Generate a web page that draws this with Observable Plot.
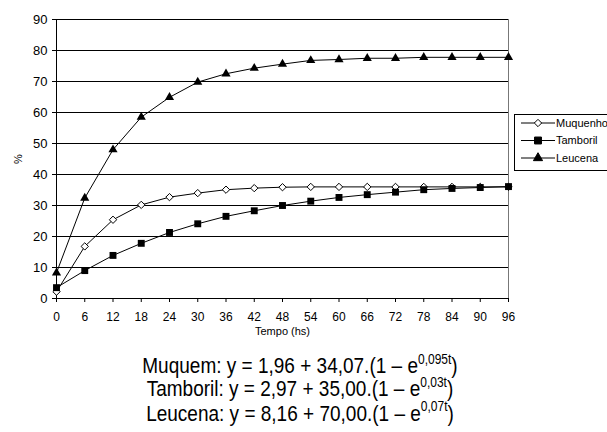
<!DOCTYPE html>
<html>
<head>
<meta charset="utf-8">
<script src="https://cdn.jsdelivr.net/npm/d3@7"></script>
<script src="https://cdn.jsdelivr.net/npm/@observablehq/plot@0.6"></script>
<style>
  html, body { margin: 0; padding: 0; background: #fff; }
  body { width: 607px; height: 432px; overflow: hidden; position: relative; font-family: "Liberation Sans", Arial, sans-serif; }
  #chart { position: absolute; left: 0; top: 0; }
  #legend { position: absolute; left: 514px; top: 114px; }
  #eq { position: absolute; left: 0; top: 355px; width: 600px; text-align: center; font-size: 19px; line-height: 20.4px; color: #000; transform: scaleY(1.15); transform-origin: top left; }
  #eq sup { font-size: 12px; vertical-align: 8px; line-height: 0; }
</style>
</head>
<body>
<div id="chart"></div>
<div id="legend"></div>
<div id="eq"></div>
<script>
const times = [0, 6, 12, 18, 24, 30, 36, 42, 48, 54, 60, 66, 72, 78, 84, 90, 96];
const muquem   = [2.2, 16.8, 25.4, 30.2, 32.7, 34.0, 35.1, 35.6, 35.9, 36.0, 36.0, 36.0, 36.0, 36.0, 36.0, 36.0, 36.0];
const tamboril = [3.5, 9.0, 13.9, 17.8, 21.3, 24.1, 26.5, 28.3, 30.0, 31.4, 32.6, 33.5, 34.3, 35.1, 35.5, 35.8, 36.1];
const leucena  = [8.3, 32.4, 48.0, 58.5, 64.9, 69.8, 72.5, 74.3, 75.6, 76.8, 77.1, 77.5, 77.5, 77.8, 77.8, 77.8, 77.8];
const yTicks = [0, 10, 20, 30, 40, 50, 60, 70, 80, 90];
const seriesNames = ["Muquenho", "Tamboril", "Leucena"];
const equations = [
  ["Muquem: y = 1,96 + 34,07.(1 \u2013 e", "0,095t", ")"],
  ["Tamboril: y = 2,97 + 35,00.(1 \u2013 e", "0,03t", ")"],
  ["Leucena: y = 8,16 + 70,00.(1 \u2013 e", "0,07t", ")"]
];

const toRows = (vals, s) => vals.map((v, i) => ({ t: times[i], v, s }));
const rowsM = toRows(muquem, seriesNames[0]);
const rowsT = toRows(tamboril, seriesNames[1]);
const rowsL = toRows(leucena, seriesNames[2]);

const chart = Plot.plot({
  width: 607,
  height: 340,
  marginLeft: 56,
  marginRight: 99,
  marginTop: 19,
  marginBottom: 42,
  style: { fontFamily: "Liberation Sans, Arial, sans-serif", fontSize: "12px", background: "white", color: "black", overflow: "visible" },
  x: { domain: [0, 96], label: null },
  y: { domain: [0, 90], label: null },
  marks: [
    Plot.ruleY(yTicks, { stroke: "black", strokeWidth: 1 }),
    Plot.ruleX([96], { stroke: "#777", strokeWidth: 1 }),
    Plot.ruleX([0], { stroke: "black", strokeWidth: 1 }),
    Plot.axisX({ ticks: times, tickSize: 4, tickPadding: 10, label: null, fontSize: 12 }),
    Plot.axisY({ ticks: yTicks, tickSize: 4, tickPadding: 5, label: null, fontSize: 13 }),
    Plot.text(["%"], { frameAnchor: "left", dx: -38, rotate: -90, textAnchor: "middle", lineAnchor: "middle", fontSize: 11 }),
    Plot.text(["Tempo (hs)"], { frameAnchor: "bottom", dy: 33, textAnchor: "middle", lineAnchor: "middle", fontSize: 11 }),
    Plot.line(rowsL, { x: "t", y: "v", stroke: "black", strokeWidth: 1 }),
    Plot.line(rowsM, { x: "t", y: "v", stroke: "black", strokeWidth: 1 }),
    Plot.line(rowsT, { x: "t", y: "v", stroke: "black", strokeWidth: 1 }),
    Plot.dot(rowsL, { x: "t", y: "v", symbol: "triangle", r: 3.4, fill: "black" }),
    Plot.dot(rowsM, { x: "t", y: "v", symbol: "diamond2", r: 3.3, fill: "white", stroke: "black", strokeWidth: 1 }),
    Plot.dot(rowsT, { x: "t", y: "v", symbol: "square", r: 3.9, fill: "black" })
  ]
});
document.getElementById("chart").appendChild(chart);

// legend
const symbols = [
  { sym: d3.symbolDiamond2, size: Math.PI * 3.3 * 3.3, fill: "white" },
  { sym: d3.symbolSquare, size: Math.PI * 3.9 * 3.9, fill: "black" },
  { sym: d3.symbolTriangle, size: Math.PI * 3.4 * 3.4, fill: "black" }
];
const lg = d3.create("svg").attr("width", 100).attr("height", 60)
  .style("font-family", "Liberation Sans, Arial, sans-serif").style("font-size", "11px");
lg.append("rect").attr("x", 0.5).attr("y", 0.5).attr("width", 120).attr("height", 56)
  .attr("fill", "white").attr("stroke", "black");
seriesNames.forEach((name, i) => {
  const cy = 9 + i * 17.5;
  lg.append("line").attr("x1", 7).attr("x2", 41).attr("y1", cy).attr("y2", cy).attr("stroke", "black");
  lg.append("path").attr("d", d3.symbol(symbols[i].sym, symbols[i].size)())
    .attr("transform", `translate(24,${cy})`).attr("fill", symbols[i].fill).attr("stroke", "black");
  lg.append("text").attr("x", 42).attr("y", cy).attr("dy", "0.35em").text(name);
});
document.getElementById("legend").appendChild(lg.node());

// equations
const eq = document.getElementById("eq");
equations.forEach(([a, s, b]) => {
  const div = document.createElement("div");
  div.appendChild(document.createTextNode(a));
  const sup = document.createElement("sup");
  sup.textContent = s;
  div.appendChild(sup);
  div.appendChild(document.createTextNode(b));
  eq.appendChild(div);
});
</script>
</body>
</html>
